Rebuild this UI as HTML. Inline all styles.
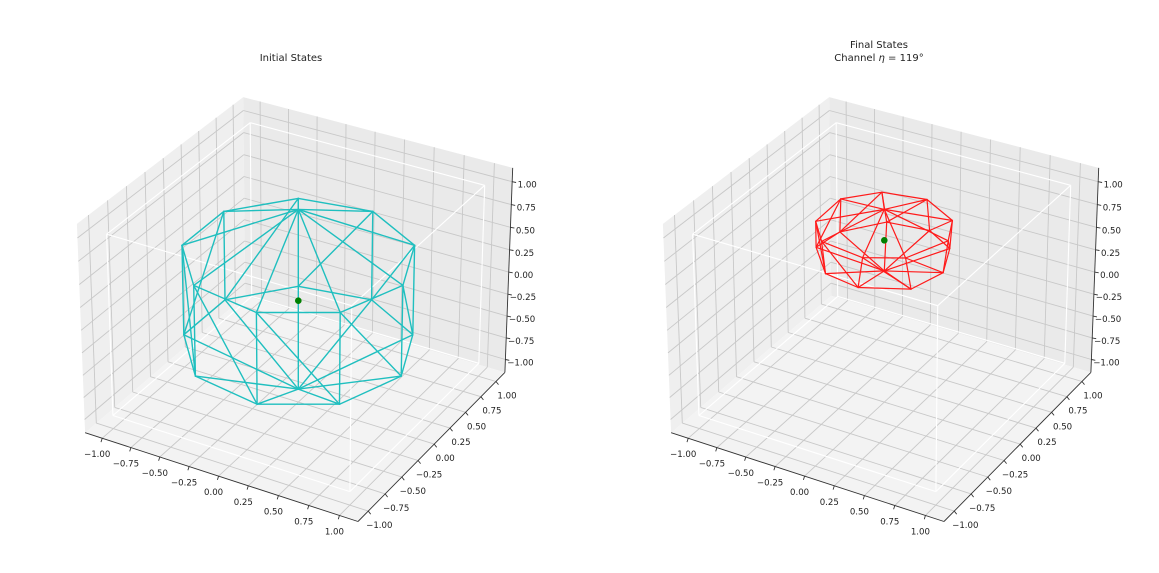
<!DOCTYPE html>
<html><head><meta charset="utf-8"><style>
html,body{margin:0;padding:0;background:#fff;}
svg{display:block;font-family:"DejaVu Sans","Liberation Sans",sans-serif;}
</style></head><body>
<svg id="fig" width="1159" height="573" viewBox="0 0 1159 573" xmlns="http://www.w3.org/2000/svg">
<rect width="1159" height="573" fill="#fff"/>
<text x="291" y="61" font-size="10" text-anchor="middle" fill="#222">Initial States</text>
<text x="879" y="48" font-size="10" text-anchor="middle" fill="#222">Final States</text>
<text x="879" y="61" font-size="10" text-anchor="middle" fill="#222">Channel <tspan font-style="italic">η</tspan> = 119°</text>
<g id="left"></g>
<g id="right"></g>
</svg>
<script>
// tick values and labels (same for x, y, z)
const tickVals = [-1, -0.75, -0.5, -0.25, 0, 0.25, 0.5, 0.75, 1];
const tickLabels = ["\u22121.00","\u22120.75","\u22120.50","\u22120.25","0.00","0.25","0.50","0.75","1.00"];
// initial states (cylindrical: radius, azimuth deg, z)
const initR   = [0,0, 0.866,0.866,0.866,0.866,0.866,0.866,0.866,0.866,0.866, 0.866,0.866,0.866,0.866,0.866,0.866,0.866,0.866,0.866];
const initPhi = [0,0, 120,160,200,240,280,320,0,40,80, 120,160,200,240,280,320,0,40,80];
const initZ   = [1,-1, 0.5,0.5,0.5,0.5,0.5,0.5,0.5,0.5,0.5, -0.5,-0.5,-0.5,-0.5,-0.5,-0.5,-0.5,-0.5,-0.5];
// final states after channel
const finalR   = [0,0, 0.50,0.52,0.50,0.51,0.50,0.49,0.52,0.50,0.51, 0.50,0.49,0.51,0.50,0.50,0.51,0.50,0.49,0.50];
const finalPhi = [0,0, 122,158,205,238,282,318,2,38,82, 118,162,198,242,278,322,358,42,78];
const finalZ   = [1.0,0.33, 0.83,0.82,0.84,0.83,0.83,0.82,0.84,0.83,0.82, 0.50,0.49,0.51,0.50,0.50,0.49,0.51,0.50,0.50];
// center states
const centerPts = [[0,0,0],[0,0,0.665]];
// edges (vertex index pairs)
const edgesA = [0,0,0,0,0,0,0,0,0, 1,1,1,1,1,1,1,1,1, 2,3,4,5,6,7,8,9,10, 11,12,13,14,15,16,17,18,19, 2,3,4,5,6,7,8,9,10, 2,3,4,5,6,7,8,9,10];
const edgesB = [2,3,4,5,6,7,8,9,10, 11,12,13,14,15,16,17,18,19, 3,4,5,6,7,8,9,10,2, 12,13,14,15,16,17,18,19,11, 11,12,13,14,15,16,17,18,19, 12,13,14,15,16,17,18,19,11];

const NS="http://www.w3.org/2000/svg";
const L=1.15;
function proj(x,y,z,ox){
  const nx=x/(2*L), ny=y/(2*L), nz=z/(2*L)*0.75;
  const u=0.8660*nx+0.5*ny;
  const v=-0.25*nx+0.4330*ny+0.8660*nz;
  const d=0.4330*nx-0.75*ny+0.5*nz;
  const f=10/(10-d);
  return [ox+298.3+313*f*u, 300.7-318*f*v];
}
function mk(tag,attrs,parent){const e=document.createElementNS(NS,tag);for(const k in attrs)e.setAttribute(k,attrs[k]);parent.appendChild(e);return e;}
function poly(pts,ox){return pts.map(p=>proj(p[0],p[1],p[2],ox).map(n=>n.toFixed(1)).join(",")).join(" ");}
function cyl(r,phi,z){const a=phi*Math.PI/180;return [r*Math.cos(a),r*Math.sin(a),z];}

function drawAxes(g,ox,R,PHI,Z,center,color,lw){
  // panes
  const p1=mk("polygon",{points:poly([[-L,-L,-L],[-L,L,-L],[-L,L,L],[-L,-L,L]],ox),fill:"#efefef"},g);
  
  
  const p2=mk("polygon",{points:poly([[-L,L,-L],[L,L,-L],[L,L,L],[-L,L,L]],ox),fill:"#eaeaea"},g);
  
  
  const p3=mk("polygon",{points:poly([[-L,-L,-L],[L,-L,-L],[L,L,-L],[-L,L,-L]],ox),fill:"#f3f3f3"},g);
  
  
  // grid
  const gg=mk("g",{stroke:"#c8c8c8","stroke-width":"0.9",fill:"none"},g);
  
  
  function seg(a,b,parent){const A=proj(a[0],a[1],a[2],ox),B=proj(b[0],b[1],b[2],ox);return mk("line",{x1:A[0].toFixed(1),y1:A[1].toFixed(1),x2:B[0].toFixed(1),y2:B[1].toFixed(1)},parent);}
  tickVals.forEach(t=>{
    seg([-L,t,-L],[-L,t,L],gg); seg([-L,-L,t],[-L,L,t],gg);
    seg([t,L,-L],[t,L,L],gg); seg([-L,L,t],[L,L,t],gg);
    seg([t,-L,-L],[t,L,-L],gg); seg([-L,t,-L],[L,t,-L],gg);
  });
  // white cube edges [-1,1]
  const wc=mk("g",{stroke:"#ffffff","stroke-width":"1.1"},g);
  
  
  const c=[[-1,-1,-1],[1,-1,-1],[1,1,-1],[-1,1,-1],[-1,-1,1],[1,-1,1],[1,1,1],[-1,1,1]];
  [[0,1],[1,2],[2,3],[3,0],[4,5],[5,6],[6,7],[7,4],[0,4],[1,5],[2,6],[3,7]].forEach(e=>seg(c[e[0]],c[e[1]],wc));
  // axis lines
  const ax=mk("g",{stroke:"#333","stroke-width":"0.9"},g);
  
  
  seg([-L,-L,-L],[L,-L,-L],ax); seg([L,-L,-L],[L,L,-L],ax); seg([L,L,-L],[L,L,L],ax);
  // ticks & labels
  const tg=mk("g",{"font-size":"8.6",fill:"#222","text-anchor":"middle"},g);
  
  
  function tick(P,off,label,name){
    const n=Math.hypot(off[0],off[1]);
    const l=mk("line",{x1:P[0].toFixed(1),y1:P[1].toFixed(1),x2:(P[0]+off[0]/n*4).toFixed(1),y2:(P[1]+off[1]/n*4).toFixed(1),stroke:"#333","stroke-width":"0.9"},ax);
    
    
    const t=mk("text",{x:(P[0]+off[0]).toFixed(1),y:(P[1]+off[1]+3).toFixed(1)},tg);
    
    
    t.textContent=label;
  }
  tickVals.forEach((t,i)=>{
    tick(proj(t,-L,-L,ox),[-5,16],tickLabels[i],'x');
    tick(proj(L,t,-L,ox),[11,14],tickLabels[i],'y');
    tick(proj(L,L,t,ox),[15,3],tickLabels[i],'z');
  });
  // wireframe
  const wf=mk("g",{stroke:color,"stroke-width":lw,"stroke-linecap":"round"},g);
  
  
  edgesA.forEach((a,i)=>{
    const b=edgesB[i];
    const l=seg(cyl(R[a],PHI[a],Z[a]),cyl(R[b],PHI[b],Z[b]),wf);
    
    
  });
  const C=proj(center[0],center[1],center[2],ox);
  const dot=mk("circle",{cx:C[0].toFixed(1),cy:C[1].toFixed(1),r:"3.3",fill:"#008000"},g);
  
  
}
drawAxes(document.getElementById('left'),0,initR,initPhi,initZ,centerPts[0],"#1fbfbf","1.4");
drawAxes(document.getElementById('right'),586,finalR,finalPhi,finalZ,centerPts[1],"#ff1a1a","1.2");
</script>
</body></html>
